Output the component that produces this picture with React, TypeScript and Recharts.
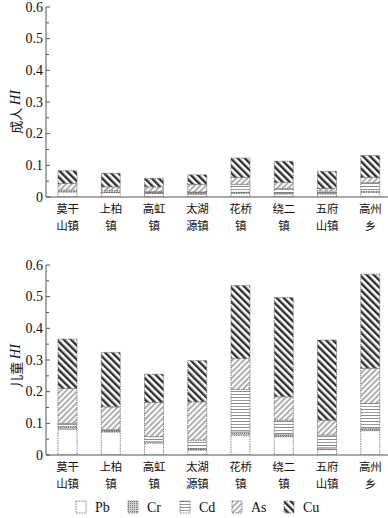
import React from "react";
import { BarChart, Bar, XAxis, YAxis } from "recharts";

const towns = ["莫干山镇", "上柏镇", "高虹镇", "太湖源镇", "花桥镇", "绕二镇", "五府山镇", "高州乡"];
const metals = ["Pb", "Cr", "Cd", "As", "Cu"];

// adult HI by metal
const adultPb = [0.016, 0.014, 0.011, 0.009, 0.012, 0.010, 0.010, 0.015];
const adultCr = [0.002, 0.002, 0.002, 0.002, 0.003, 0.002, 0.002, 0.003];
const adultCd = [0.004, 0.004, 0.004, 0.005, 0.025, 0.015, 0.007, 0.027];
const adultAs = [0.021, 0.012, 0.015, 0.024, 0.022, 0.019, 0.008, 0.017];
const adultCu = [0.040, 0.043, 0.027, 0.030, 0.061, 0.067, 0.054, 0.069];

// child HI by metal
const childPb = [0.082, 0.073, 0.038, 0.016, 0.063, 0.058, 0.017, 0.077];
const childCr = [0.008, 0.004, 0.004, 0.004, 0.010, 0.006, 0.006, 0.006];
const childCd = [0.010, 0.003, 0.016, 0.027, 0.134, 0.046, 0.040, 0.080];
const childAs = [0.110, 0.072, 0.108, 0.121, 0.098, 0.074, 0.047, 0.111];
const childCu = [0.156, 0.172, 0.089, 0.130, 0.230, 0.313, 0.253, 0.297];

const yTicks = [0, 0.05, 0.1, 0.15, 0.2, 0.25, 0.3, 0.35, 0.4, 0.45, 0.5, 0.55, 0.6];

const adultRows = towns.map((town, i) => ({
  town,
  Pb: adultPb[i],
  Cr: adultCr[i],
  Cd: adultCd[i],
  As: adultAs[i],
  Cu: adultCu[i],
}));

const childRows = towns.map((town, i) => ({
  town,
  Pb: childPb[i],
  Cr: childCr[i],
  Cd: childCd[i],
  As: childAs[i],
  Cu: childCu[i],
}));

const serif = "'Liberation Serif', 'DejaVu Serif', serif";
const cjk = "'Noto Sans CJK SC', sans-serif";
const axisColor = "#555";

function Patterns({ p }: { p: string }) {
  return (
    <defs>
      <pattern id={`${p}-Pb`} width="4" height="4" patternUnits="userSpaceOnUse">
        <rect width="4" height="4" fill="#fff" />
      </pattern>
      <pattern id={`${p}-Cr`} width="2" height="2" patternUnits="userSpaceOnUse">
        <rect width="2" height="2" fill="#d2d2d2" />
        <rect width="1" height="1" fill="#7a7a7a" />
      </pattern>
      <pattern id={`${p}-Cd`} width="4" height="6" patternUnits="userSpaceOnUse">
        <rect width="4" height="6" fill="#fff" />
        <rect y="0" width="4" height="1" fill="#8a8a8a" />
        <rect y="3" width="4" height="1" fill="#9a9a9a" />
      </pattern>
      <pattern id={`${p}-As`} width="4" height="4" patternUnits="userSpaceOnUse" patternTransform="rotate(45)">
        <rect width="4" height="4" fill="#fff" />
        <rect width="1.8" height="4" fill="#a8a8a8" />
      </pattern>
      <pattern id={`${p}-Cu`} width="5" height="5" patternUnits="userSpaceOnUse" patternTransform="rotate(-45)">
        <rect width="5" height="5" fill="#fff" />
        <rect width="2.4" height="5" fill="#2e2e2e" />
      </pattern>
    </defs>
  );
}

function TownTick(props: any) {
  const { x, y, payload } = props;
  const name: string = payload.value;
  return (
    <g>
      <text x={x} y={y + 16} textAnchor="middle" fontSize={11.5} fontFamily={cjk} fill="#111">
        {name.slice(0, 2)}
      </text>
      <text x={x} y={y + 33} textAnchor="middle" fontSize={11.5} fontFamily={cjk} fill="#111">
        {name.slice(2)}
      </text>
    </g>
  );
}

function HiTick(props: any) {
  const { x, y, payload } = props;
  const v: number = payload.value;
  const major = Math.round(v * 100) % 10 === 0;
  return (
    <g>
      <line x1={x} x2={x + (major ? 4 : 3)} y1={y} y2={y} stroke={axisColor} strokeWidth={1} />
      {major && (
        <text x={x - 3} y={y} dy={4.5} textAnchor="end" fontSize={14} fontFamily={serif} fill="#111">
          {String(Number(v.toFixed(1)))}
        </text>
      )}
    </g>
  );
}

function HiChart({
  rows,
  prefix,
  label,
  top,
  height,
  labelY,
}: {
  rows: any[];
  prefix: string;
  label: string;
  top: number;
  height: number;
  labelY: number;
}) {
  return (
    <BarChart
      width={392}
      height={height}
      data={rows}
      margin={{ top, right: 0, left: 0, bottom: 0 }}
      barCategoryGap={0}
    >
      <Patterns p={prefix} />
      <XAxis
        dataKey="town"
        height={38}
        tick={<TownTick />}
        tickLine={false}
        tickSize={0}
        tickMargin={0}
        interval={0}
        axisLine={{ stroke: axisColor }}
      />
      <YAxis
        width={46}
        domain={[0, 0.6]}
        ticks={yTicks}
        interval={0}
        tick={<HiTick />}
        tickLine={false}
        tickSize={0}
        tickMargin={0}
        axisLine={{ stroke: axisColor }}
        allowDataOverflow
      />
      {metals.map((m) => (
        <Bar
          key={m}
          dataKey={m}
          stackId="hi"
          barSize={19}
          fill={`url(#${prefix}-${m})`}
          stroke="#666"
          strokeWidth={0.8}
          strokeDasharray="1.5 1"
          isAnimationActive={false}
        />
      ))}
      <text
        x={15}
        y={labelY}
        transform={`rotate(-90 15 ${labelY})`}
        textAnchor="middle"
        dominantBaseline="central"
        fontSize={13}
        fontFamily={cjk}
        fill="#111"
      >
        {label}{" "}
        <tspan fontFamily={serif} fontStyle="italic" fontSize={14}>
          HI
        </tspan>
      </text>
    </BarChart>
  );
}

function MetalLegend() {
  return (
    <svg width={388} height={26} style={{ position: "absolute", left: 0, top: 495 }}>
      <Patterns p="lg" />
      {metals.map((m, i) => {
        const x = 76 + i * 52;
        return (
          <g key={m}>
            <rect x={x} y={6} width={10} height={12} fill={`url(#lg-${m})`} stroke="#666" strokeWidth={0.8} strokeDasharray="1.5 1" />
            <text x={x + 19} y={17} fontSize={14} fontFamily={serif} fill="#111">
              {m}
            </text>
          </g>
        );
      })}
    </svg>
  );
}

export default function App() {
  return (
    <div
      style={{
        position: "absolute",
        left: 0,
        top: 0,
        width: 388,
        height: 518,
        overflow: "hidden",
        background: "#fff",
      }}
    >
      <div style={{ position: "absolute", left: 0, top: 0 }}>
        <HiChart rows={adultRows} prefix="ad" label="成人" top={7} height={235} labelY={112} />
      </div>
      <div style={{ position: "absolute", left: 0, top: 235 }}>
        <HiChart rows={childRows} prefix="ch" label="儿童" top={30} height={258} labelY={131} />
      </div>
      <MetalLegend />
    </div>
  );
}
